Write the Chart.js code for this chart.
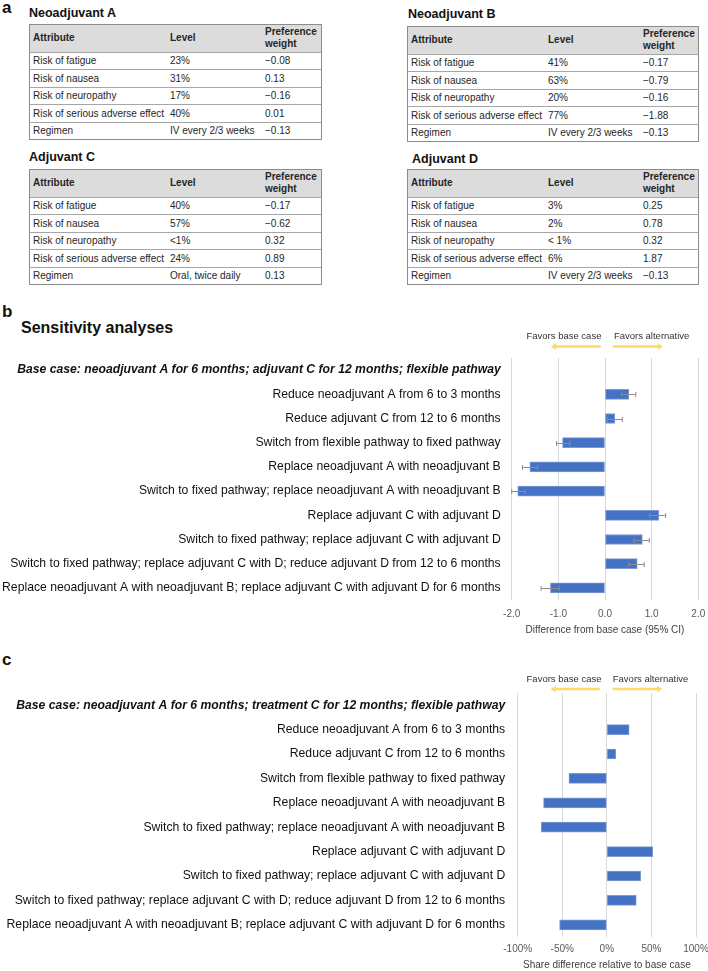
<!DOCTYPE html>
<html>
<head>
<meta charset="utf-8">
<script src="https://cdn.jsdelivr.net/npm/chart.js@4.4.0/dist/chart.umd.min.js"></script>
<style>
  body { margin: 0; width: 708px; height: 971px; position: relative; background: #fff; overflow: hidden;
         font-family: "Liberation Sans", Arial, sans-serif; color: #1a1a1a; }
  .abs { position: absolute; white-space: nowrap; }
  .plabel { font-weight: bold; font-size: 17px; line-height: 17px; color: #111; }
  .thead { font-weight: bold; font-size: 12.5px; line-height: 14px; color: #111; }
  .tbl { position: absolute; box-sizing: border-box; border: 1px solid #8c8c8c; font-size: 10px; color: #262626; }
  .tr { display: flex; align-items: center; box-sizing: border-box; border-top: 1px solid #a6a6a6; height: 17.5px; }
  .tr.head { border-top: none; background: #dcdcdc; height: 26.5px; font-weight: bold; line-height: 12px; }
  .tr span { display: block; padding-left: 3px; box-sizing: border-box; white-space: nowrap; }
  canvas { position: absolute; left: 0; }
</style>
</head>
<body>
<div class="abs plabel" style="left:2px;top:-1px;">a</div>
<div class="abs thead" style="left:29px;top:6px;">Neoadjuvant A</div>
<div class="abs thead" style="left:408px;top:7px;">Neoadjuvant B</div>
<div class="abs thead" style="left:29px;top:150px;">Adjuvant C</div>
<div class="abs thead" style="left:412px;top:152px;">Adjuvant D</div>

<div class="abs plabel" style="left:2px;top:303px;">b</div>
<div class="abs" style="left:21px;top:319px;font-weight:bold;font-size:16px;color:#111;">Sensitivity analyses</div>
<div class="abs plabel" style="left:2px;top:651px;">c</div>

<canvas id="sensChart" width="708" height="306" style="top:330px"></canvas>
<canvas id="shareChart" width="708" height="306" style="top:665px"></canvas>

<script>
// ---- panel a: attribute tables ----
const attributes = ['Risk of fatigue', 'Risk of nausea', 'Risk of neuropathy', 'Risk of serious adverse effect', 'Regimen'];
const levelsA = ['23%', '31%', '17%', '40%', 'IV every 2/3 weeks'];
const weightsA = ['\u22120.08', '0.13', '\u22120.16', '0.01', '\u22120.13'];
const levelsB = ['41%', '63%', '20%', '77%', 'IV every 2/3 weeks'];
const weightsB = ['\u22120.17', '\u22120.79', '\u22120.16', '\u22121.88', '\u22120.13'];
const levelsC = ['40%', '57%', '<1%', '24%', 'Oral, twice daily'];
const weightsC = ['\u22120.17', '\u22120.62', '0.32', '0.89', '0.13'];
const levelsD = ['3%', '2%', '< 1%', '6%', 'IV every 2/3 weeks'];
const weightsD = ['0.25', '0.78', '0.32', '1.87', '\u22120.13'];

// ---- panel b / c: sensitivity analyses ----
const scenarios = [
  'Reduce neoadjuvant A from 6 to 3 months',
  'Reduce adjuvant C from 12 to 6 months',
  'Switch from flexible pathway to fixed pathway',
  'Replace neoadjuvant A with neoadjuvant B',
  'Switch to fixed pathway; replace neoadjuvant A with neoadjuvant B',
  'Replace adjuvant C with adjuvant D',
  'Switch to fixed pathway; replace adjuvant C with adjuvant D',
  'Switch to fixed pathway; replace adjuvant C with D; reduce adjuvant D from 12 to 6 months',
  'Replace neoadjuvant A with neoadjuvant B; replace adjuvant C with adjuvant D for 6 months'
];
const baseCaseB = 'Base case: neoadjuvant A for 6 months; adjuvant C for 12 months; flexible pathway';
const baseCaseC = 'Base case: neoadjuvant A for 6 months; treatment C for 12 months; flexible pathway';
const diffValues = [0.51, 0.21, -0.91, -1.61, -1.87, 1.15, 0.80, 0.69, -1.17];
const diffLow    = [0.36, 0.05, -1.04, -1.77, -2.00, 0.96, 0.62, 0.51, -1.37];
const diffHigh   = [0.66, 0.37, -0.75, -1.44, -1.71, 1.30, 0.95, 0.84, -0.98];
const shareValues = [25, 10, -42.5, -71, -73.5, 51.5, 38, 33, -53];
const diffTicks = [-2, -1, 0, 1, 2];
const shareTicks = [-100, -50, 0, 50, 100];

function buildTable(left, top, width, levels, weights) {
  const box = document.createElement('div');
  box.className = 'tbl';
  box.style.left = left + 'px';
  box.style.top = top + 'px';
  box.style.width = width + 'px';
  const widths = [137, 95, width - 234];
  const addRow = (cells, head) => {
    const r = document.createElement('div');
    r.className = head ? 'tr head' : 'tr';
    cells.forEach((c, i) => {
      const s = document.createElement('span');
      s.style.width = widths[i] + 'px';
      s.innerHTML = c;
      r.appendChild(s);
    });
    box.appendChild(r);
  };
  addRow(['Attribute', 'Level', 'Preference<br>weight'], true);
  attributes.forEach((a, i) => addRow([a, levels[i].replace('<', '&lt;'), weights[i]], false));
  document.body.appendChild(box);
}
buildTable(29, 24, 293, levelsA, weightsA);
buildTable(407, 26, 292, levelsB, weightsB);
buildTable(29, 169, 293, levelsC, weightsC);
buildTable(407, 169, 292, levelsD, weightsD);

const FONT = "'Liberation Sans', Arial, sans-serif";

// error bars drawn from the x scale
function errorBars(low, high) {
  return {
    id: 'errorBars',
    afterDatasetsDraw(chart) {
      const { ctx, scales: { x } } = chart;
      const meta = chart.getDatasetMeta(0);
      ctx.save();
      ctx.strokeStyle = '#8c8c8c';
      ctx.lineWidth = 1;
      meta.data.forEach((bar, i) => {
        if (i === 0) return;
        const x1 = x.getPixelForValue(low[i - 1]);
        const x2 = x.getPixelForValue(high[i - 1]);
        const y = Math.round(bar.y) + 0.5;
        ctx.beginPath();
        ctx.moveTo(x1, y); ctx.lineTo(x2, y);
        ctx.moveTo(x1, y - 2.5); ctx.lineTo(x1, y + 2.5);
        ctx.moveTo(x2, y - 2.5); ctx.lineTo(x2, y + 2.5);
        ctx.stroke();
      });
      ctx.restore();
    }
  };
}

// "Favors base case / Favors alternative" header with yellow arrows
function favors(cfg) {
  return {
    id: 'favors',
    afterDraw(chart) {
      const { ctx, chartArea, scales: { x } } = chart;
      const ty = chartArea.top + cfg.textDy;
      const ay = chartArea.top + cfg.arrowDy;
      ctx.save();
      ctx.font = '9.5px ' + FONT;
      ctx.fillStyle = '#333';
      ctx.textAlign = 'center';
      ctx.textBaseline = 'middle';
      ctx.fillText('Favors base case', x.getPixelForValue(cfg.leftText), ty);
      ctx.fillText('Favors alternative', x.getPixelForValue(cfg.rightText), ty);
      ctx.strokeStyle = '#ffd966';
      ctx.fillStyle = '#ffd966';
      ctx.lineWidth = 2.5;
      const arrow = (from, to) => {
        const a = x.getPixelForValue(from), b = x.getPixelForValue(to);
        const dir = Math.sign(b - a);
        ctx.beginPath();
        ctx.moveTo(a, ay); ctx.lineTo(b - dir * 3, ay);
        ctx.stroke();
        ctx.beginPath();
        ctx.moveTo(b, ay); ctx.lineTo(b - dir * 5, ay - 3.5); ctx.lineTo(b - dir * 5, ay + 3.5);
        ctx.closePath();
        ctx.fill();
      };
      arrow(cfg.leftArrow[0], cfg.leftArrow[1]);
      arrow(cfg.rightArrow[0], cfg.rightArrow[1]);
      ctx.restore();
    }
  };
}

function sensitivityChart(id, baseLabel, values, ticks, opt) {
  return new Chart(document.getElementById(id), {
    type: 'bar',
    data: {
      labels: [baseLabel].concat(scenarios),
      datasets: [{
        data: [null].concat(values),
        backgroundColor: '#4472c4',
        borderColor: '#7d9ad6',
        borderWidth: 1,
        borderSkipped: false,
        barThickness: 10
      }]
    },
    options: {
      indexAxis: 'y',
      responsive: false,
      animation: false,
      layout: { padding: { top: opt.top, right: opt.right, left: 0, bottom: 0 } },
      plugins: { legend: { display: false }, tooltip: { enabled: false } },
      scales: {
        y: {
          grid: { display: false, drawTicks: false },
          border: { display: false },
          afterFit: (s) => { s.width = opt.left; },
          ticks: {
            autoSkip: false,
            padding: opt.labelPad,
            color: '#111',
            font: (c) => c.index === 0
              ? { family: FONT, size: 12.2, style: 'italic', weight: 'bold' }
              : { family: FONT, size: 12.2 }
          }
        },
        x: {
          min: ticks[0],
          max: ticks[ticks.length - 1],
          afterBuildTicks: (s) => { s.ticks = ticks.map(v => ({ value: v })); },
          afterFit: (s) => { s.height = opt.bottom; s.paddingLeft = 0; s.paddingRight = 0; },
          grid: { color: '#d9d9d9', drawTicks: false },
          border: { display: false },
          ticks: {
            padding: opt.tickPad,
            color: '#595959',
            font: { family: FONT, size: 10 },
            callback: opt.fmt
          },
          title: {
            display: true,
            text: opt.title,
            color: '#404040',
            font: { family: FONT, size: 10 },
            padding: { top: opt.titlePad, bottom: 0 }
          }
        }
      }
    },
    plugins: opt.plugins
  });
}

sensitivityChart('sensChart', baseCaseB, diffValues, diffTicks, {
  top: 28, right: 9.7, left: 511.7, labelPad: 11, bottom: 36, tickPad: 8, titlePad: 1,
  title: 'Difference from base case (95% CI)',
  fmt: (v) => Number(v).toFixed(1),
  plugins: [errorBars(diffLow, diffHigh), favors({
    textDy: -22, arrowDy: -11.5, leftText: -0.88, rightText: 1.0,
    leftArrow: [-0.09, -1.16], rightArrow: [0.165, 1.24]
  })]
});

sensitivityChart('shareChart', baseCaseC, shareValues, shareTicks, {
  top: 28, right: 12, left: 517.7, labelPad: 12.5, bottom: 34, tickPad: 6, titlePad: 3,
  title: 'Share difference relative to base case',
  fmt: (v) => v + '%',
  plugins: [favors({
    textDy: -14, arrowDy: -4, leftText: -48, rightText: 49,
    leftArrow: [-8, -63], rightArrow: [6.4, 62]
  })]
});
</script>
</body>
</html>
